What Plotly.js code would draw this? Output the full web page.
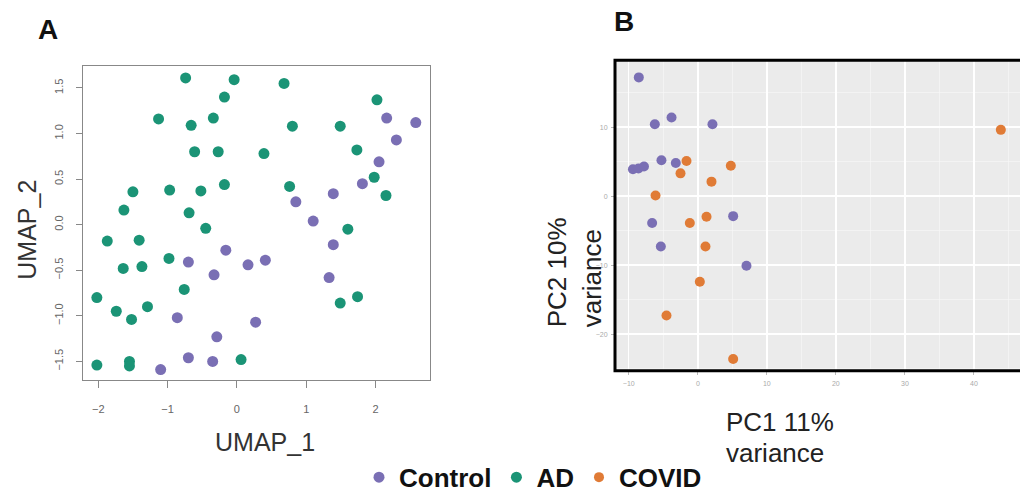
<!DOCTYPE html>
<html>
<head>
<meta charset="utf-8">
<script src="https://cdn.plot.ly/plotly-3.0.1.min.js"></script>
<style>
html, body { margin: 0; padding: 0; overflow: hidden; background: #fff; }
#chart { width: 1060px; height: 501px; }
</style>
</head>
<body>
<div id="chart"></div>
<script>
// ---- Data: Panel A (UMAP) ----
var ctrlA_x = [2.16, 2.58, 2.30, 2.05, 1.81, 1.39, 0.85, 1.10, 1.39, -0.16, -0.70, 0.16, 0.41, -0.33, 1.33, -0.86, 0.27, -0.29, -0.70, -0.35, -1.10];
var ctrlA_y = [1.17, 1.12, 0.93, 0.69, 0.45, 0.34, 0.25, 0.04, -0.22, -0.28, -0.41, -0.44, -0.39, -0.55, -0.58, -1.02, -1.07, -1.23, -1.46, -1.50, -1.59];
var adA_x = [-0.74, -0.04, 0.68, -0.18, 2.02, -1.13, -0.66, -0.34, 0.80, 1.49, -0.61, -0.27, 0.39, 1.73, -0.18, 0.76, 1.98, 2.15, -1.50, -0.97, -0.52, -1.63, -0.69, -0.45, 1.60, -1.87, -1.41, -0.98, -1.64, -1.37, -0.76, -2.02, -1.74, -1.29, -1.52, 1.49, 1.74, -2.02, -1.55, -1.55, 0.06];
var adA_y = [1.61, 1.59, 1.55, 1.40, 1.37, 1.16, 1.09, 1.17, 1.08, 1.08, 0.80, 0.80, 0.78, 0.82, 0.44, 0.42, 0.52, 0.32, 0.36, 0.38, 0.37, 0.16, 0.13, -0.04, -0.05, -0.18, -0.17, -0.37, -0.48, -0.46, -0.71, -0.80, -0.95, -0.90, -1.04, -0.86, -0.79, -1.54, -1.50, -1.55, -1.48];

// ---- Data: Panel B (PCA) ----
var ctrlB_x = [-8.55, -6.23, -3.81, 2.12, -9.4, -8.6, -7.8, -5.27, -3.19, -6.62, 5.12, -5.36, 7.05];
var ctrlB_y = [17.2, 10.4, 11.4, 10.4, 3.9, 4.0, 4.3, 5.2, 4.8, -3.9, -2.9, -7.3, -10.1];
var covB_x = [-1.64, -2.51, 4.78, 1.98, -6.13, -1.16, 1.26, 1.11, 43.9, 0.29, -4.54, 5.12];
var covB_y = [5.1, 3.3, 4.4, 2.1, 0.1, -3.9, -3.0, -7.3, 9.6, -12.4, -17.3, -23.6];

var groupNames = ['Control', 'AD', 'COVID'];
var aTicksX = [-2, -1, 0, 1, 2];
var aTicksY = [-1.5, -1, -0.5, 0, 0.5, 1, 1.5];
var bTicksX = [-10, 0, 10, 20, 30, 40];
var bTicksY = [-20, -10, 0, 10];
var axisTitles = {a_x: 'UMAP_1', a_y: 'UMAP_2', b_x: ['PC1 11%', 'variance'], b_y: ['PC2 10%', 'variance']};

// ---- Layout helpers ----
var W = 1060, H = 501;
function px(x) { return x / W; }
function py(y) { return 1 - y / H; }

var colCtrl = '#7A6FB4', colAD = '#1B9476', colCov = '#E07B36';
var FONT = 'Liberation Sans, Arial, sans-serif';

var traces = [
  {x: ctrlA_x, y: ctrlA_y, xaxis: 'x', yaxis: 'y', type: 'scatter', mode: 'markers', name: groupNames[0],
   marker: {color: colCtrl, size: 11}, showlegend: true, legendrank: 1},
  {x: adA_x, y: adA_y, xaxis: 'x', yaxis: 'y', type: 'scatter', mode: 'markers', name: groupNames[1],
   marker: {color: colAD, size: 11}, showlegend: true, legendrank: 2},
  {x: ctrlB_x, y: ctrlB_y, xaxis: 'x2', yaxis: 'y2', type: 'scatter', mode: 'markers', name: groupNames[0],
   marker: {color: colCtrl, size: 10}, showlegend: false},
  {x: covB_x, y: covB_y, xaxis: 'x2', yaxis: 'y2', type: 'scatter', mode: 'markers', name: groupNames[2],
   marker: {color: colCov, size: 10}, showlegend: true, legendrank: 3}
];

var A = {l: 83, r: 430, t: 67, b: 385};
var B = {l: 615, r: 1045, t: 61, b: 376};

var layout = {
  width: W, height: H,
  margin: {l: 0, r: 0, t: 0, b: 0},
  paper_bgcolor: '#ffffff',
  plot_bgcolor: 'rgba(0,0,0,0)',
  font: {family: FONT, color: '#222'},
  showlegend: true,
  legend: {
    orientation: 'h', x: px(533), y: py(484), xanchor: 'center', yanchor: 'middle',
    font: {family: FONT, size: 26, color: '#111', weight: 'bold'},
    bgcolor: 'rgba(0,0,0,0)', itemclick: false, itemsizing: 'trace', tracegroupgap: 0
  },
  xaxis: {
    domain: [px(A.l), px(A.r)], anchor: 'y', range: [-2.22, 2.785],
    showgrid: false, zeroline: false, showline: true, mirror: true, linecolor: '#888', linewidth: 1,
    ticks: 'outside', ticklen: 7, tickcolor: '#888', tickvals: aTicksX,
    tickfont: {size: 11, color: '#666'}, ticklabelstandoff: 12
  },
  yaxis: {
    domain: [py(A.b), py(A.t)], anchor: 'x', range: [-1.70, 1.74],
    showgrid: false, zeroline: false, showline: true, mirror: true, linecolor: '#888', linewidth: 1,
    ticks: 'outside', ticklen: 6, tickcolor: '#888', tickvals: aTicksY,
    tickformat: '.1f', tickangle: -90, tickfont: {size: 11, color: '#666'}, ticklabelstandoff: 9
  },
  xaxis2: {
    domain: [px(B.l), px(B.r)], anchor: 'y2', range: [-12.0, 50.3],
    showgrid: true, gridcolor: '#ffffff', gridwidth: 1.4, zeroline: false, showline: false,
    tickvals: bTicksX, ticks: 'outside', ticklen: 3, tickcolor: '#bbb',
    minor: {dtick: 5, tick0: 0, showgrid: true, gridcolor: '#F6F6F6', gridwidth: 0.7},
    tickfont: {size: 7, color: '#aaa'}, ticklabelstandoff: 3
  },
  yaxis2: {
    domain: [py(B.b), py(B.t)], anchor: 'x2', range: [-25.3, 19.7],
    showgrid: true, gridcolor: '#ffffff', gridwidth: 1.4, zeroline: false, showline: false,
    tickvals: bTicksY, ticks: 'outside', ticklen: 3, tickcolor: '#bbb',
    minor: {dtick: 5, tick0: 0, showgrid: true, gridcolor: '#F6F6F6', gridwidth: 0.7},
    tickfont: {size: 7, color: '#aaa'}, ticklabelstandoff: 2
  },
  shapes: [
    {type: 'rect', xref: 'paper', yref: 'paper', x0: px(B.l), x1: px(B.r), y0: py(B.b), y1: py(B.t),
     fillcolor: '#EBEBEB', line: {width: 0}, layer: 'below'},
    {type: 'line', xref: 'paper', yref: 'paper', x0: px(B.l) + 0, x1: px(B.r), y0: py(B.b), y1: py(B.b),
     line: {width: 0}, layer: 'below'},
    {type: 'rect', xref: 'paper', yref: 'paper', x0: px(B.l), x1: px(B.r), y0: py(B.b), y1: py(B.t),
     fillcolor: 'rgba(0,0,0,0)', line: {width: 3, color: '#000'}, layer: 'above'}
  ],
  annotations: [
    {text: '<b>A</b>', x: px(48), y: py(30), xref: 'paper', yref: 'paper', showarrow: false,
     xanchor: 'center', yanchor: 'middle', font: {size: 28, color: '#111'}},
    {text: '<b>B</b>', x: px(624), y: py(22), xref: 'paper', yref: 'paper', showarrow: false,
     xanchor: 'center', yanchor: 'middle', font: {size: 28, color: '#111'}},
    {text: axisTitles.a_x, x: px(265), y: py(448), xref: 'paper', yref: 'paper', showarrow: false,
     xanchor: 'center', yanchor: 'middle', font: {size: 25, color: '#333'}},
    {text: axisTitles.a_y, x: px(27), y: py(233), xref: 'paper', yref: 'paper', showarrow: false,
     textangle: -90, xanchor: 'center', yanchor: 'middle', font: {size: 25, color: '#333'}},
    {text: axisTitles.b_x[0], x: px(724), y: py(428), xref: 'paper', yref: 'paper', showarrow: false,
     xanchor: 'left', yanchor: 'middle', font: {size: 26, color: '#222'}},
    {text: axisTitles.b_x[1], x: px(724), y: py(459), xref: 'paper', yref: 'paper', showarrow: false,
     xanchor: 'left', yanchor: 'middle', font: {size: 26, color: '#222'}},
    {text: axisTitles.b_y[0], x: px(557), y: py(334), xref: 'paper', yref: 'paper', showarrow: false,
     textangle: -90, xanchor: 'center', yanchor: 'bottom', font: {size: 26, color: '#222'}},
    {text: axisTitles.b_y[1], x: px(592), y: py(334), xref: 'paper', yref: 'paper', showarrow: false,
     textangle: -90, xanchor: 'center', yanchor: 'bottom', font: {size: 26, color: '#222'}}
  ]
};

Plotly.newPlot('chart', traces, layout, {staticPlot: true, displayModeBar: false});
</script>
</body>
</html>
